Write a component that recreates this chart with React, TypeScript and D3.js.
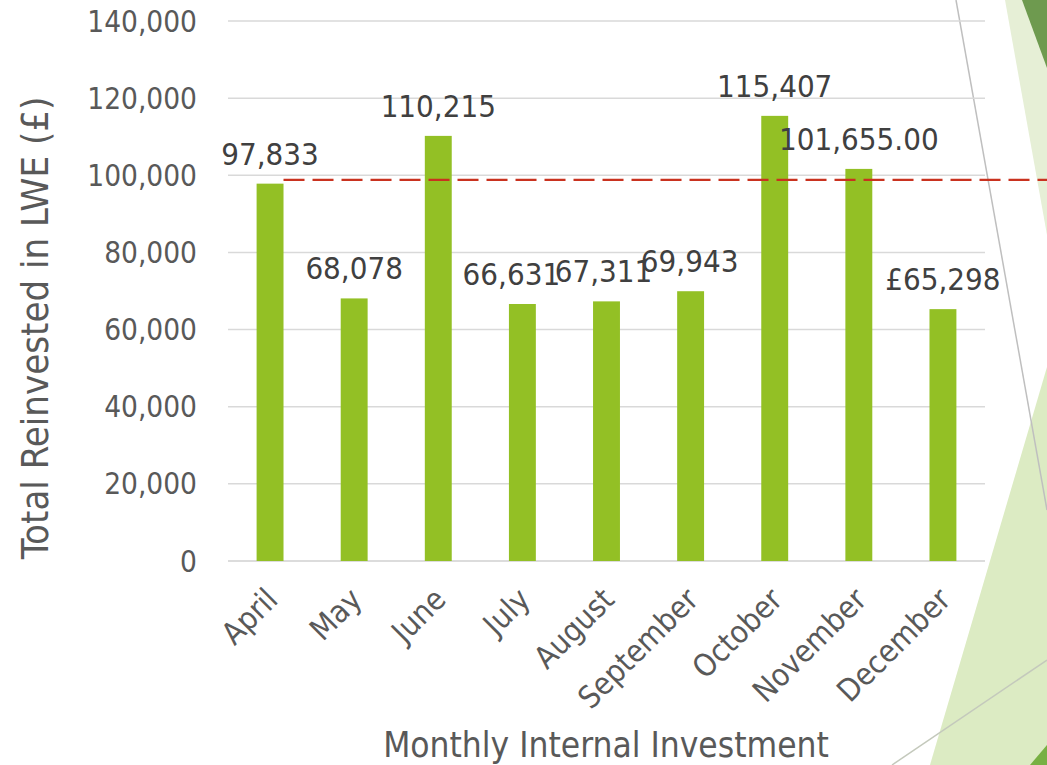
import React, { useEffect, useRef } from 'react';
import { select, scaleBand, scaleLinear, line } from 'd3';

const months = ['April', 'May', 'June', 'July', 'August', 'September', 'October', 'November', 'December'];
const reinvested = [97833, 68078, 110215, 66631, 67311, 69943, 115407, 101655, 65298];
const labelFormats = ['int', 'int', 'int', 'int', 'int', 'int', 'int', 'dec', 'gbp'];
const targetValue = 98800;
const yTicks = [0, 20000, 40000, 60000, 80000, 100000, 120000, 140000];

const FONT = '"DejaVu Sans", sans-serif';

const fmtInt = (v: number) => v.toLocaleString('en-GB');
const formatLabel = (v: number, kind: string) => {
  if (kind === 'dec') return v.toLocaleString('en-GB', { minimumFractionDigits: 2 });
  if (kind === 'gbp') return '£' + fmtInt(v);
  return fmtInt(v);
};

// labels that Excel shoved sideways because they collide
const labelNudge: Record<string, number> = { July: -11, August: -3, September: -1 };

const App = () => {
  const svgRef = useRef<SVGSVGElement>(null);

  useEffect(() => {
    const svg = select(svgRef.current);
    svg.selectAll('*').remove();

    // slide theme decoration
    const deco = svg.append('g');
    deco.append('polygon').attr('points', '1005,0 1047,0 1047,235').attr('fill', '#e6efd6');
    deco.append('polygon').attr('points', '1022,0 1047,0 1047,68').attr('fill', '#6e9a4f');
    deco.append('polygon').attr('points', '1047,367 930,765 1047,765').attr('fill', '#dcebc3');
    deco.append('polygon').attr('points', '1047,745 1030,765 1047,765').attr('fill', '#78b043');
    deco.append('line').attr('x1', 956).attr('y1', 0).attr('x2', 1047).attr('y2', 510)
      .attr('stroke', '#bfbfbf').attr('stroke-width', 1.5);
    deco.append('line').attr('x1', 892).attr('y1', 765).attr('x2', 1047).attr('y2', 660)
      .attr('stroke', '#c4c9bc').attr('stroke-width', 1.5);

    const x = scaleBand().domain(months).range([228, 985]).paddingInner(0.68).paddingOuter(0.34);
    const y = scaleLinear().domain([0, 140000]).range([561, 21]);

    // gridlines
    svg.append('g').selectAll('line').data(yTicks).join('line')
      .attr('x1', 228).attr('x2', 985)
      .attr('y1', d => y(d)).attr('y2', d => y(d))
      .attr('stroke', d => (d === 0 ? '#d0d0d0' : '#d9d9d9'))
      .attr('stroke-width', 1.5);

    // y tick labels
    svg.append('g').selectAll('text').data(yTicks).join('text')
      .attr('x', 197).attr('y', d => y(d)).attr('dy', '0.36em')
      .attr('text-anchor', 'end')
      .style('font-family', FONT).style('font-size', '29.5px').style('font-stretch', 'condensed')
      .attr('fill', '#595959')
      .text(d => fmtInt(d));

    // bars
    svg.append('g').selectAll('rect').data(reinvested).join('rect')
      .attr('x', (d, i) => x(months[i])!)
      .attr('width', x.bandwidth())
      .attr('y', d => y(d))
      .attr('height', d => y(0) - y(d))
      .attr('fill', '#93c025');

    // target line
    const first = months[0];
    const targetLine = line<number>()
      .x(d => d)
      .y(() => y(targetValue));
    svg.append('path')
      .attr('d', targetLine([x(first)! + x.bandwidth(), 1047]))
      .attr('stroke', '#c9321f').attr('stroke-width', 2.2)
      .attr('stroke-dasharray', '21,8').attr('fill', 'none');

    // data labels
    svg.append('g').selectAll('text').data(reinvested).join('text')
      .attr('x', (d, i) => x(months[i])! + x.bandwidth() / 2 + (labelNudge[months[i]] || 0))
      .attr('y', d => y(d) - 19)
      .attr('text-anchor', 'middle')
      .style('font-family', FONT).style('font-size', '31px').style('font-stretch', 'condensed')
      .attr('fill', '#404040')
      .text((d, i) => formatLabel(d, labelFormats[i]));

    // month labels
    svg.append('g').selectAll('text').data(months).join('text')
      .attr('transform', d => `translate(${x(d)! + x.bandwidth() / 2 - 7},585) rotate(-45)`)
      .attr('dy', '0.75em')
      .attr('text-anchor', 'end')
      .style('font-family', FONT).style('font-size', '31px').style('font-stretch', 'condensed')
      .attr('fill', '#595959')
      .text(d => d);

    // axis titles
    svg.append('text')
      .attr('x', 606).attr('y', 757)
      .attr('text-anchor', 'middle')
      .style('font-family', FONT).style('font-size', '35px').style('font-stretch', 'condensed')
      .attr('fill', '#595959')
      .text('Monthly Internal Investment');

    svg.append('text')
      .attr('transform', 'translate(48,328) rotate(-90)')
      .attr('text-anchor', 'middle')
      .style('font-family', FONT).style('font-size', '38px').style('font-stretch', 'condensed')
      .attr('fill', '#595959')
      .text('Total Reinvested in LWE (£)');
  }, []);

  return (
    <svg
      ref={svgRef}
      width={1047}
      height={765}
      style={{ position: 'absolute', left: 0, top: 0, background: '#ffffff' }}
    />
  );
};

export default App;
